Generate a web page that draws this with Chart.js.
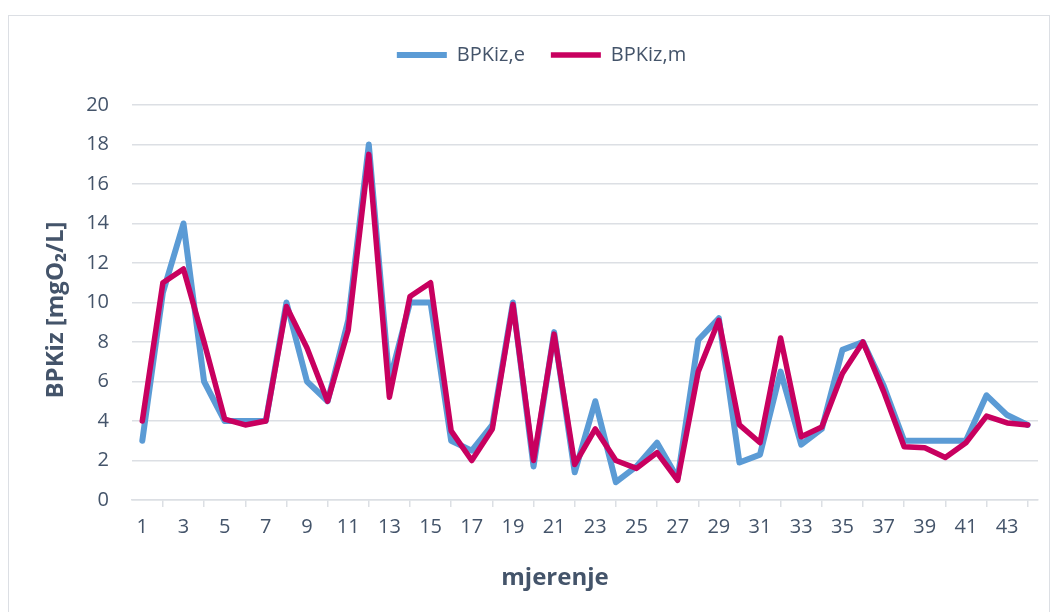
<!DOCTYPE html>
<html>
<head>
<meta charset="utf-8">
<script src="https://cdn.jsdelivr.net/npm/chart.js@4/dist/chart.umd.min.js"></script>
<style>
  html, body { margin: 0; padding: 0; background: #ffffff; }
  #box { position: absolute; left: 8px; top: 15px; width: 1042px; height: 610px; box-sizing: border-box; border: 1px solid #dcdfe4; background: #fff; }
  #c { display: block; }
</style>
</head>
<body>
<div id="box"><canvas id="c" width="1040" height="608"></canvas></div>
<script>
const categories = ["1","2","3","4","5","6","7","8","9","10","11","12","13","14","15","16","17","18","19","20","21","22","23","24","25","26","27","28","29","30","31","32","33","34","35","36","37","38","39","40","41","42","43","44"];
const seriesE = [3, 10.5, 14, 6, 4, 4, 4, 10, 6, 5, 9.1, 18, 6, 10, 10, 3, 2.5, 3.8, 10, 1.7, 8.5, 1.4, 5, 0.9, 1.7, 2.9, 1.1, 8.1, 9.2, 1.9, 2.3, 6.5, 2.8, 3.6, 7.6, 8, 5.8, 3, 3, 3, 3, 5.3, 4.3, 3.8];
const seriesM = [4, 11, 11.7, 8, 4.1, 3.8, 4, 9.8, 7.7, 5, 8.6, 17.5, 5.2, 10.3, 11, 3.5, 2, 3.6, 9.9, 2, 8.4, 1.8, 3.6, 2, 1.6, 2.4, 1, 6.5, 9.1, 3.8, 2.9, 8.2, 3.2, 3.7, 6.4, 8, 5.5, 2.7, 2.65, 2.15, 2.9, 4.25, 3.9, 3.8];
const seriesNames = ["BPKiz,e", "BPKiz,m"];
const yTitle = "BPKiz [mgO\u2082/L]";
const xTitle = "mjerenje";

const textColor = '#44546a';
const gridColor = '#dcdfe4';
const fontFam = '"Open Sans", Lato, sans-serif';
Chart.defaults.font.family = fontFam;
Chart.defaults.color = textColor;

const legendTweak = {
  id: 'legendTweak',
  afterInit(chart) {
    const lg = chart.legend;
    if (lg) {
      const f = lg.fit;
      lg.fit = function () { f.call(this); this.height = 86; };
      const d = lg.draw;
      lg.draw = function () {
        const ctx = this.ctx;
        ctx.save(); ctx.translate(18, 0); d.call(this); ctx.restore();
      };
    }
  }
};

const axisTitles = {
  id: 'axisTitles',
  afterDraw(chart) {
    const ctx = chart.ctx;
    ctx.save();
    ctx.fillStyle = textColor;
    ctx.font = 'bold 24px ' + fontFam;
    ctx.textAlign = 'center';
    ctx.textBaseline = 'alphabetic';
    ctx.fillText(xTitle, 546, 569);
    ctx.translate(54, 294);
    ctx.rotate(-Math.PI / 2);
    ctx.fillText(yTitle, 0, 0);
    ctx.restore();
  }
};

new Chart(document.getElementById('c'), {
  type: 'line',
  data: {
    labels: categories,
    datasets: [
      { label: seriesNames[0], data: seriesE, borderColor: '#5b9bd5', backgroundColor: '#5b9bd5', borderWidth: 6, pointRadius: 0, tension: 0, borderCapStyle: 'round', borderJoinStyle: 'round', order: 1 },
      { label: seriesNames[1], data: seriesM, borderColor: '#c8005f', backgroundColor: '#c8005f', borderWidth: 5.5, pointRadius: 0, tension: 0, borderCapStyle: 'round', borderJoinStyle: 'round', order: 0 }
    ]
  },
  options: {
    responsive: false,
    animation: false,
    layout: { padding: { top: 3, right: 11, left: 0, bottom: 0 } },
    plugins: {
      legend: {
        position: 'top',
        labels: { usePointStyle: true, pointStyle: 'line', pointStyleWidth: 50, padding: 26, font: { size: 20 }, color: textColor,
          sort: (a, b) => a.datasetIndex - b.datasetIndex }
      },
      tooltip: { enabled: false }
    },
    scales: {
      x: {
        offset: true,
        afterFit: s => { s.height = 124; },
        grid: { display: true, drawOnChartArea: false, drawTicks: true, tickLength: 7, offset: true, color: gridColor, lineWidth: 1.5 },
        border: { display: true, color: gridColor, width: 1.5 },
        ticks: { autoSkip: false, maxRotation: 0, padding: 8, font: { size: 20 }, color: textColor,
          callback: function (v, i) { return i % 2 === 0 ? this.getLabelForValue(v) : null; } },
        title: { display: false }
      },
      y: {
        min: 0, max: 20,
        afterFit: s => { s.width = 123; },
        grid: { drawTicks: false, color: gridColor, lineWidth: 1.5 },
        border: { display: false },
        ticks: { stepSize: 2, padding: 23, font: { size: 20 }, color: textColor },
        title: { display: false }
      }
    }
  },
  plugins: [legendTweak, axisTitles]
});
</script>
</body>
</html>
